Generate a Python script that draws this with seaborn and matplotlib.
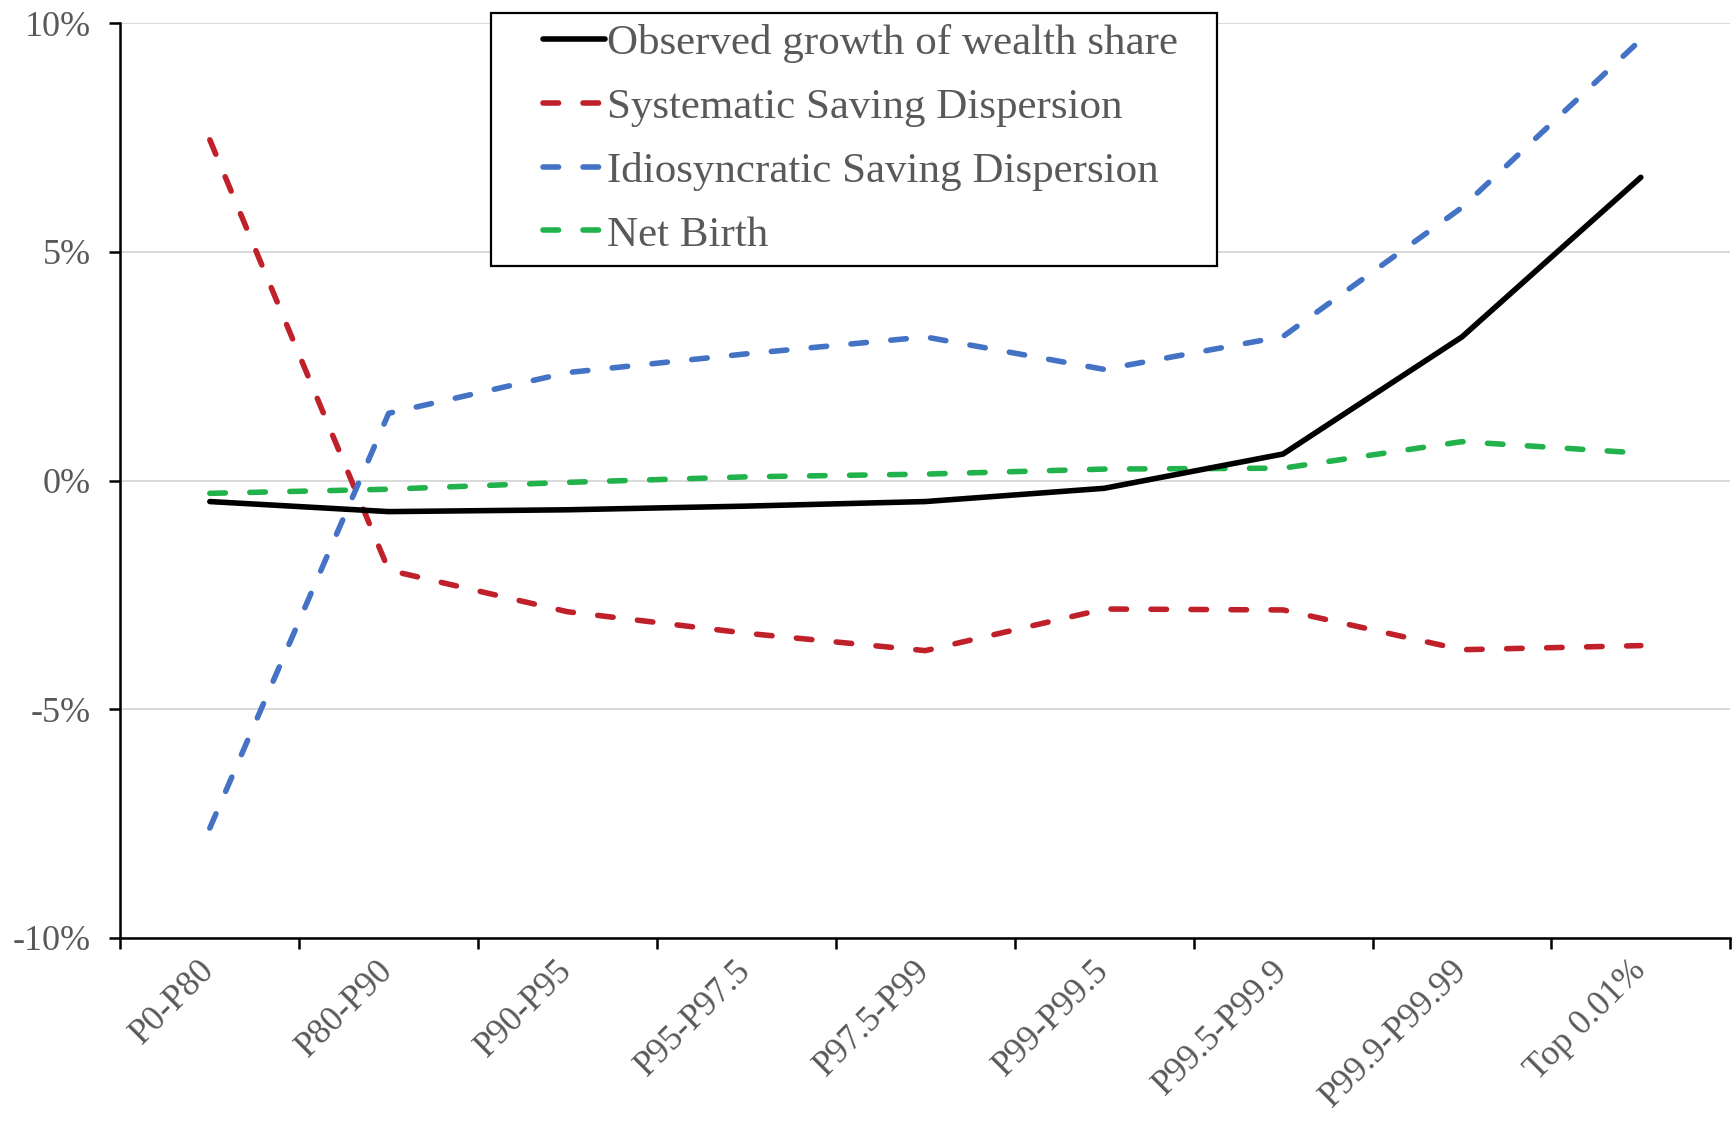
import matplotlib
matplotlib.use("Agg")
import matplotlib.pyplot as plt
import seaborn as sns
import numpy as np
import pandas as pd
from matplotlib.lines import Line2D
from matplotlib.legend_handler import HandlerLine2D
from matplotlib.ticker import FixedLocator

# Wealth groups along the distribution
groups = ["P0-P80", "P80-P90", "P90-P95", "P95-P97.5", "P97.5-P99",
          "P99-P99.5", "P99.5-P99.9", "P99.9-P99.99", "Top 0.01%"]

# Decomposition of wealth-share growth (percent)
observed = [-0.46, -0.68, -0.64, -0.56, -0.46, -0.17, 0.58, 3.14, 6.63]
systematic = [7.45, -1.96, -2.87, -3.34, -3.72, -2.81, -2.83, -3.70, -3.61]
idiosyncratic = [-7.60, 1.47, 2.36, 2.77, 3.14, 2.43, 3.15, 5.97, 9.64]
net_birth = [-0.28, -0.19, -0.04, 0.08, 0.14, 0.25, 0.27, 0.85, 0.60]

series_names = ["Observed growth of wealth share", "Systematic Saving Dispersion",
                "Idiosyncratic Saving Dispersion", "Net Birth"]
series_values = [observed, systematic, idiosyncratic, net_birth]
series_colors = ["#000000", "#C0202A", "#4472C4", "#21B24B"]
series_dashes = ["", (2.8, 4.4), (2.8, 4.4), (2.8, 4.4)]

y_ticks = [10, 5, 0, -5, -10]
y_tick_labels = ["10%", "5%", "0%", "-5%", "-10%"]

rows = []
for name, vals in zip(series_names, series_values):
    for i, v in enumerate(vals):
        rows.append({"pos": i, "value": v, "series": name})
df = pd.DataFrame(rows)

sns.set_theme(style="white")
plt.rcParams["font.family"] = ["Liberation Serif", "DejaVu Serif"]

fig = plt.figure(figsize=(17.32, 11.21), dpi=100)
ax = fig.add_axes([0.0695, 0.1634, 0.9295, 0.8159])

palette = dict(zip(series_names, series_colors))
dashes = dict(zip(series_names, series_dashes))
lw = 4.0
sns.lineplot(data=df, x="pos", y="value", hue="series", style="series",
             hue_order=series_names, style_order=series_names,
             palette=palette, dashes=dashes, linewidth=lw, sort=False,
             legend=False, ax=ax)
for line in ax.lines:
    line.set_dash_capstyle("round")
    line.set_solid_capstyle("round")

# Keep the observed line above the dashed components
ax.lines[0].set_zorder(5)

ax.set_xlim(-0.5, len(groups) - 0.5)
ax.set_ylim(-10, 10)

# Category labels centred, tick marks between categories
ax.xaxis.set_major_locator(FixedLocator(range(len(groups))))
ax.set_xticklabels(groups, rotation=45, ha="right", va="center",
                   rotation_mode="anchor")
ax.xaxis.set_minor_locator(FixedLocator([i - 0.5 for i in range(len(groups) + 1)]))
ax.tick_params(axis="x", which="major", length=0, pad=20, labelsize=25.5,
               labelcolor="#595959")
ax.tick_params(axis="x", which="minor", length=8, width=1.8, color="black",
               direction="out", bottom=True)

ax.set_yticks(y_ticks)
ax.set_yticklabels(y_tick_labels)
ax.tick_params(axis="y", which="major", length=8, width=1.8, color="black",
               direction="out", left=True, pad=13, labelsize=26,
               labelcolor="#595959")

ax.set_xlabel("")
ax.set_ylabel("")

ax.grid(axis="y", color="#D9D9D9", linewidth=1.4)
ax.grid(axis="x", visible=False)
ax.set_axisbelow(True)

for side in ["top", "right"]:
    ax.spines[side].set_visible(False)
for side in ["left", "bottom"]:
    ax.spines[side].set_color("black")
    ax.spines[side].set_linewidth(1.8)
ax.spines["bottom"].set_zorder(6)


class ShortLineHandler(HandlerLine2D):
    """Draws the legend line only over the right part of the handle box."""

    def __init__(self, frac, **kw):
        super().__init__(**kw)
        self.frac = frac

    def get_xdata(self, legend, xdescent, ydescent, width, height, fontsize):
        x0 = -xdescent + width * (1 - self.frac)
        x1 = -xdescent + width
        xdata = np.array([x0, x1])
        return xdata, xdata


handles = [Line2D([0], [0], color=c, lw=lw,
                  linestyle="-" if d == "" else (0, d),
                  dash_capstyle="round", solid_capstyle="round")
           for c, d in zip(series_colors, series_dashes)]
leg = ax.legend(handles, series_names, loc="upper left",
                bbox_to_anchor=(0.2303, 0.0, 0.4508, 1.011), mode="expand",
                borderaxespad=0, fontsize=31, frameon=True, fancybox=False,
                shadow=False, framealpha=1, edgecolor="black",
                handlelength=2.39, handletextpad=0.05, labelspacing=0.57,
                borderpad=0.26, labelcolor="#595959",
                handler_map={Line2D: ShortLineHandler(0.6)})
leg.get_frame().set_linewidth(1.6)

fig.savefig("out.png", dpi=100, facecolor="white")
